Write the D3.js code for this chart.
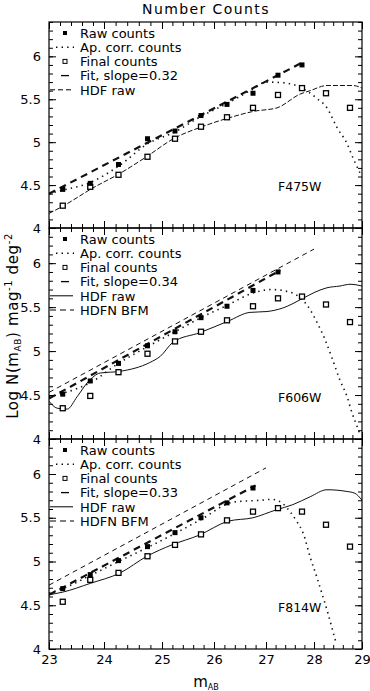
<!DOCTYPE html>
<html>
<head>
<meta charset="utf-8">
<script src="https://cdn.jsdelivr.net/npm/d3@7"></script>
<style>
	body { margin: 0; background: #fff; }
	text { font-family: "DejaVu Sans", sans-serif; fill: #000; }
</style>
</head>
<body>
<svg id="chart" width="370" height="691"></svg>
<script>
// Number counts in three filters

// Magnitude bin centres and x tick labels
var magBins = [23.25, 23.75, 24.25, 24.75, 25.25, 25.75, 26.25, 26.75, 27.25, 27.75, 28.25, 28.75]
var xTicks = [23, 24, 25, 26, 27, 28, 29]
var yTicks = [4, 4.5, 5, 5.5, 6]

var filterNames = ["F475W", "F606W", "F814W"]
var fitSlopes = ["0.32", "0.34", "0.33"]
var legendLabels = ["Raw counts", "Ap. corr. counts", "Final counts", "Fit, slope=", "HDF raw", "HDFN BFM"]

// F475W
var raw475 = [4.45, 4.52, 4.74, 5.04, 5.13, 5.31, 5.44, 5.57, 5.78, 5.90]
var final475 = [4.26, 4.48, 4.62, 4.83, 5.04, 5.18, 5.29, 5.40, 5.55, 5.63, 5.57, 5.40]
var apMag475 = [23.0, 23.25, 23.75, 24.25, 24.75, 25.25, 25.75, 26.25, 26.75, 27.0, 27.4, 27.75, 28.06, 28.27, 28.48, 28.69, 28.81, 28.96]
var apLog475 = [4.40, 4.44, 4.53, 4.72, 4.98, 5.12, 5.30, 5.45, 5.62, 5.70, 5.69, 5.63, 5.51, 5.40, 5.17, 4.98, 4.82, 4.64]
var fitMag475 = [23.0, 27.8]
var fitLog475 = [4.40, 5.94]
var hdfMag475 = [23.0, 23.24, 23.78, 24.31, 24.71, 25.25, 25.77, 26.27, 26.77, 27.23, 27.71, 27.92, 28.27, 28.81, 29.0]
var hdfLog475 = [4.17, 4.25, 4.46, 4.65, 4.82, 5.05, 5.18, 5.28, 5.36, 5.40, 5.56, 5.60, 5.66, 5.66, 5.63]

// F606W
var raw606 = [4.51, 4.66, 4.86, 5.06, 5.22, 5.38, 5.51, 5.69, 5.90]
var final606 = [4.35, 4.49, 4.76, 4.97, 5.11, 5.22, 5.35, 5.51, 5.60, 5.62, 5.53, 5.33]
var apMag606 = [23.0, 23.25, 23.75, 24.25, 24.75, 25.25, 25.75, 26.25, 26.75, 27.12, 27.5, 27.92, 28.06, 28.23, 28.37, 28.54, 28.69, 28.79, 28.9, 28.96]
var apLog606 = [4.48, 4.52, 4.64, 4.86, 5.05, 5.22, 5.38, 5.52, 5.66, 5.70, 5.67, 5.47, 5.33, 5.13, 4.93, 4.67, 4.48, 4.30, 4.14, 4.05]
var fitMag606 = [23.0, 27.3]
var fitLog606 = [4.46, 5.92]
var hdfMag606 = [23.0, 23.15, 23.33, 23.51, 23.71, 23.93, 24.28, 24.79, 24.97, 25.21, 25.73, 26.27, 26.69, 27.02, 27.35, 27.77, 28.02, 28.27, 28.54, 28.75, 29.0]
var hdfLog606 = [4.43, 4.35, 4.34, 4.48, 4.65, 4.75, 4.77, 4.87, 4.94, 5.10, 5.21, 5.34, 5.44, 5.45, 5.49, 5.60, 5.67, 5.72, 5.74, 5.76, 5.74]
var bfmMag606 = [23.0, 28.0]
var bfmLog606 = [4.53, 6.16]

// F814W
var raw814 = [4.69, 4.85, 5.01, 5.17, 5.33, 5.50, 5.67, 5.84]
var final814 = [4.54, 4.79, 4.87, 5.06, 5.19, 5.31, 5.47, 5.57, 5.61, 5.57, 5.42, 5.17]
var apMag814 = [23.0, 23.25, 23.75, 24.25, 24.75, 25.25, 25.75, 26.38, 26.9, 27.12, 27.33, 27.5, 27.65, 27.77, 27.92, 28.06, 28.19, 28.29, 28.37, 28.46]
var apLog814 = [4.64, 4.69, 4.84, 5.00, 5.16, 5.32, 5.48, 5.68, 5.70, 5.71, 5.67, 5.57, 5.45, 5.33, 5.05, 4.82, 4.59, 4.41, 4.25, 4.07]
var fitMag814 = [23.0, 26.8]
var fitLog814 = [4.62, 5.87]
var hdfMag814 = [23.0, 23.25, 23.75, 24.28, 24.74, 25.19, 25.71, 26.27, 26.75, 27.21, 27.56, 27.92, 28.27, 28.69, 28.85, 29.0]
var hdfLog814 = [4.62, 4.65, 4.75, 4.87, 5.06, 5.19, 5.30, 5.46, 5.50, 5.59, 5.65, 5.74, 5.82, 5.80, 5.78, 5.70]
var bfmMag814 = [23.0, 27.0]
var bfmLog814 = [4.73, 6.07]

// pair up magnitude and log N arrays
function zip(a, b) {
	return a.map(function(d, i) { return [d, b[i]] })
}
function binned(vals) {
	return vals.map(function(d, i) { return [magBins[i], d] })
}

var panels = [
	{ name: filterNames[0], slope: fitSlopes[0], raw: binned(raw475), fin: binned(final475),
	  ap: zip(apMag475, apLog475), fit: zip(fitMag475, fitLog475), hdf: zip(hdfMag475, hdfLog475), bfm: null, hdfDash: "5,2" },
	{ name: filterNames[1], slope: fitSlopes[1], raw: binned(raw606), fin: binned(final606),
	  ap: zip(apMag606, apLog606), fit: zip(fitMag606, fitLog606), hdf: zip(hdfMag606, hdfLog606), bfm: zip(bfmMag606, bfmLog606), hdfDash: null },
	{ name: filterNames[2], slope: fitSlopes[2], raw: binned(raw814), fin: binned(final814),
	  ap: zip(apMag814, apLog814), fit: zip(fitMag814, fitLog814), hdf: zip(hdfMag814, hdfLog814), bfm: zip(bfmMag814, bfmLog814), hdfDash: null }
]

// Layout
var left = 49, right = 362
var panelTops = [22, 228, 439]
var panelBottoms = [228, 439, 649]
// the scan is stretched a little, so the integer marks are not evenly spaced
var xStops = [49, 104, 162, 214, 266, 314, 362]

var svg = d3.select("#chart")
var x = d3.scaleLinear().domain(xTicks).range(xStops)

var xMinor = d3.range(230, 291, 2).map(function(d) { return d / 10 })
var yMinor = d3.range(40, 65, 1).map(function(d) { return d / 10 })
var yMajor = [4, 4.5, 5, 5.5, 6]

// Styles for each kind of line
var styles = {
	ap: { width: 1.6, dash: "1.4,4.2" },
	fit: { width: 2.2, dash: "7,5" },
	hdf: { width: 1, dash: null },
	bfm: { width: 1, dash: "5,4" }
}

panels.forEach(function(p, i) {
	drawPanel(p, panelTops[i], panelBottoms[i], i === panels.length - 1)
})

// Title and axis titles
svg.append("text")
	.attr("x", 206).attr("y", 14)
	.attr("text-anchor", "middle")
	.style("font-size", "14px")
	.style("letter-spacing", "1.4px")
	.text("Number Counts")

var xl = svg.append("text")
	.attr("x", 206).attr("y", 687)
	.attr("text-anchor", "middle")
	.style("font-size", "15px")
xl.append("tspan").text("m")
xl.append("tspan").attr("dy", 3).style("font-size", "8px").text("AB")

var yl = svg.append("text")
	.attr("transform", "translate(18,326) rotate(-90)")
	.attr("text-anchor", "middle")
	.style("font-size", "15px")
	.style("letter-spacing", "0.6px")
yl.append("tspan").text("Log N(m")
yl.append("tspan").attr("dy", 3).style("font-size", "9px").text("AB")
yl.append("tspan").attr("dy", -3).text(") mag")
yl.append("tspan").attr("dy", -6).style("font-size", "10px").text("-1")
yl.append("tspan").attr("dy", 6).text(" deg")
yl.append("tspan").attr("dy", -6).style("font-size", "10px").text("-2")

function drawPanel(p, top, bottom, showX) {
	var y = d3.scaleLinear().domain([4, 6.4]).range([bottom, top])
	var g = svg.append("g")

	var line = d3.line()
		.x(function(d) { return x(d[0]) })
		.y(function(d) { return y(d[1]) })
		.curve(d3.curveMonotoneX)

	// clip so the curves stop at the frame
	var clipId = "clip" + p.name
	svg.append("clipPath").attr("id", clipId)
		.append("rect")
		.attr("x", left).attr("y", top)
		.attr("width", right - left).attr("height", bottom - top)

	var lines = g.append("g").attr("clip-path", "url(#" + clipId + ")")

	function addLine(data, st, dash) {
		lines.append("path")
			.datum(data)
			.attr("d", line)
			.attr("fill", "none")
			.attr("stroke", "#111")
			.attr("stroke-width", st.width)
			.attr("stroke-dasharray", dash)
	}

	addLine(p.hdf, styles.hdf, p.hdfDash)
	if (p.bfm) addLine(p.bfm, styles.bfm, styles.bfm.dash)
	addLine(p.ap, styles.ap, styles.ap.dash)
	addLine(p.fit, styles.fit, styles.fit.dash)

	// Markers: open squares for final counts, filled for raw counts
	g.selectAll(".fin")
		.data(p.fin)
		.enter().append("rect")
		.attr("class", "fin")
		.attr("x", function(d) { return x(d[0]) - 2.5 })
		.attr("y", function(d) { return y(d[1]) - 2.5 })
		.attr("width", 5).attr("height", 5)
		.attr("fill", "#fff")
		.attr("stroke", "#000")
		.attr("stroke-width", 1.3)
	g.selectAll(".raw")
		.data(p.raw)
		.enter().append("rect")
		.attr("class", "raw")
		.attr("x", function(d) { return x(d[0]) - 2.5 })
		.attr("y", function(d) { return y(d[1]) - 2.5 })
		.attr("width", 5).attr("height", 5)
		.attr("fill", "#000")

	// Ticks on all four sides, pointing inward
	function ticks(axis, transform, values, size, fmt, pad) {
		var a = g.append("g")
			.attr("transform", transform)
			.call(axis.tickValues(values).tickSize(-size).tickFormat(fmt).tickPadding(pad))
		a.select(".domain").remove()
		a.selectAll("line").attr("stroke", "#000")
		a.selectAll("text").style("font-size", "13px").attr("font-family", null)
		return a
	}
	var noText = function() { return "" }
	ticks(d3.axisBottom(x), "translate(0," + bottom + ")", xMinor, 4, noText, 3)
	ticks(d3.axisBottom(x), "translate(0," + bottom + ")", xTicks, 7, showX ? d3.format("d") : noText, 6)
	ticks(d3.axisTop(x), "translate(0," + top + ")", xMinor, 4, noText, 3)
	ticks(d3.axisTop(x), "translate(0," + top + ")", xTicks, 7, noText, 3)
	ticks(d3.axisLeft(y), "translate(" + left + ",0)", yMinor, 4, noText, 3)
	ticks(d3.axisLeft(y), "translate(" + left + ",0)", yMajor, 7, d3.format("~g"), 8)
	ticks(d3.axisRight(y), "translate(" + right + ",0)", yMinor, 4, noText, 3)
	ticks(d3.axisRight(y), "translate(" + right + ",0)", yMajor, 7, noText, 3)

	g.append("rect")
		.attr("x", left).attr("y", top)
		.attr("width", right - left).attr("height", bottom - top)
		.attr("fill", "none")
		.attr("stroke", "#000")
		.attr("stroke-width", 1.2)

	// Filter name
	g.append("text")
		.attr("x", 278).attr("y", bottom - 37)
		.style("font-size", "12.5px")
		.text(p.name)

	// Legend
	var rows = p.bfm ? 6 : 5
	for (var k = 0; k < rows; k++) {
		var ry = top + 11 + k * 14.2
		var label = legendLabels[k]
		if (k === 3) label = label + p.slope
		if (k === 0) {
			g.append("rect").attr("x", 63).attr("y", ry - 2).attr("width", 4).attr("height", 4).attr("fill", "#000")
		} else if (k === 1) {
			g.append("line").attr("x1", 56).attr("x2", 74).attr("y1", ry).attr("y2", ry)
				.attr("stroke", "#000").attr("stroke-width", 1.4).attr("stroke-dasharray", "1.4,4.2")
		} else if (k === 2) {
			g.append("rect").attr("x", 63).attr("y", ry - 2).attr("width", 4).attr("height", 4)
				.attr("fill", "none").attr("stroke", "#000").attr("stroke-width", 1)
		} else if (k === 3) {
			g.append("line").attr("x1", 61).attr("x2", 69).attr("y1", ry).attr("y2", ry)
				.attr("stroke", "#000").attr("stroke-width", 1.3)
		} else if (k === 4) {
			g.append("line").attr("x1", 50).attr("x2", 73).attr("y1", ry).attr("y2", ry)
				.attr("stroke", "#000").attr("stroke-width", 1).attr("stroke-dasharray", p.hdfDash ? "5,3" : null)
		} else {
			g.append("line").attr("x1", 50).attr("x2", 74).attr("y1", ry).attr("y2", ry)
				.attr("stroke", "#000").attr("stroke-width", 1).attr("stroke-dasharray", "6,4")
		}
		g.append("text")
			.attr("x", 80).attr("y", ry + 4.7)
			.style("font-size", "13px")
			.text(label)
	}
}
</script>
</body>
</html>
